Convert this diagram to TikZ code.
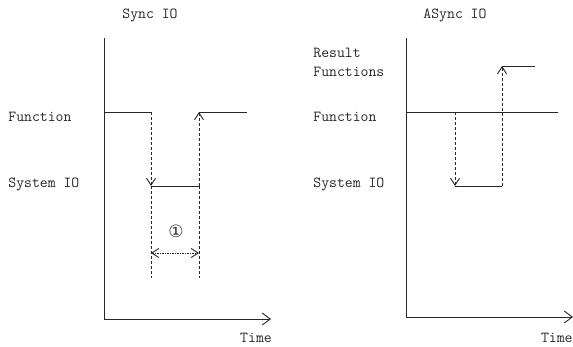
\documentclass[tikz,border=0pt]{standalone}
\usepackage{fontspec}
\newfontfamily\symfont{DejaVu Sans}
\usetikzlibrary{arrows.meta}
\begin{document}
\begin{tikzpicture}[x=1pt,y=-1pt,
  line width=0.9pt, draw=black!85,
  lbl/.style={anchor=west,inner sep=0pt,font=\ttfamily\fontsize{15.3}{17}\selectfont,text=black!85},
  ttl/.style={inner sep=0pt,font=\ttfamily\fontsize{15.3}{17}\selectfont,text=black!85},
  tip/.style={-{Straight Barb[length=7pt,width=9pt,line width=0.9pt]}},
  dtip/.style={{Straight Barb[length=7pt,width=9pt,line width=0.9pt]}-{Straight Barb[length=7pt,width=9pt,line width=0.9pt]}},
  atip/.style={-{Straight Barb[length=8pt,width=12pt,line width=0.9pt]}},
  dsh/.style={dash pattern=on 3pt off 2pt},
  dot/.style={dash pattern=on 1.5pt off 1pt}]
\useasboundingbox (0,0) rectangle (573,346);
% ---------- Sync IO ----------
\node[ttl] (t1) at (150,15) {Sync IO};
\node[lbl] (f1) at (8,117) {Function};
\node[lbl] (s1) at (8,184) {System IO};
\node[ttl] (x1) at (256,338) {Time};
\node[inner sep=0pt,font=\symfont\fontsize{17}{18}\selectfont,text=black!80] (c1) at (176,231) {①};
\coordinate (o1) at (104,319);
\coordinate (top1) at (104,38);
\coordinate (end1) at (271,319);
\draw (top1) -- (o1);
\draw[atip] (o1) -- (end1);
\coordinate (fa) at (104,112);
\coordinate (fb) at (151,112);
\coordinate (fc) at (199,112);
\coordinate (fd) at (247,112);
\coordinate (sa) at (151,186);
\coordinate (sb) at (199,186);
\coordinate (la) at (151,278);
\coordinate (lb) at (199,278);
\coordinate (da) at (151,253);
\coordinate (db) at (199,253);
\draw (fa) -- (fb);
\draw (fc) -- (fd);
\draw (sa) -- (sb);
\draw[tip,dsh] (fb) -- (sa);
\draw[tip,dsh] (sb) -- (fc);
\draw[dsh] (sa) -- (la);
\draw[dsh] (sb) -- (lb);
\draw[dtip,dot] (da) -- (db);
% ---------- Async IO ----------
\node[ttl] (t2) at (455,15) {ASync IO};
\node[lbl] (r2) at (313,53) {Result};
\node[lbl] (r2b) at (313,72) {Functions};
\node[lbl] (f2) at (313,117) {Function};
\node[lbl] (s2) at (313,184) {System IO};
\node[ttl,anchor=east] (x2) at (573,338) {Time};
\coordinate (o2) at (406,317);
\coordinate (top2) at (406,38);
\coordinate (end2) at (573,317);
\draw (top2) -- (o2);
\draw[atip] (o2) -- (end2);
\coordinate (ga) at (406,112);
\coordinate (gb) at (558,112);
\coordinate (gd) at (455,112);
\coordinate (ha) at (455,186);
\coordinate (hb) at (502,186);
\coordinate (ra) at (502,66);
\coordinate (rb) at (535,66);
\draw (ga) -- (gb);
\draw (ha) -- (hb);
\draw (ra) -- (rb);
\draw[tip,dsh] (gd) -- (ha);
\draw[tip,dsh] (hb) -- (ra);
\end{tikzpicture}
\end{document}
